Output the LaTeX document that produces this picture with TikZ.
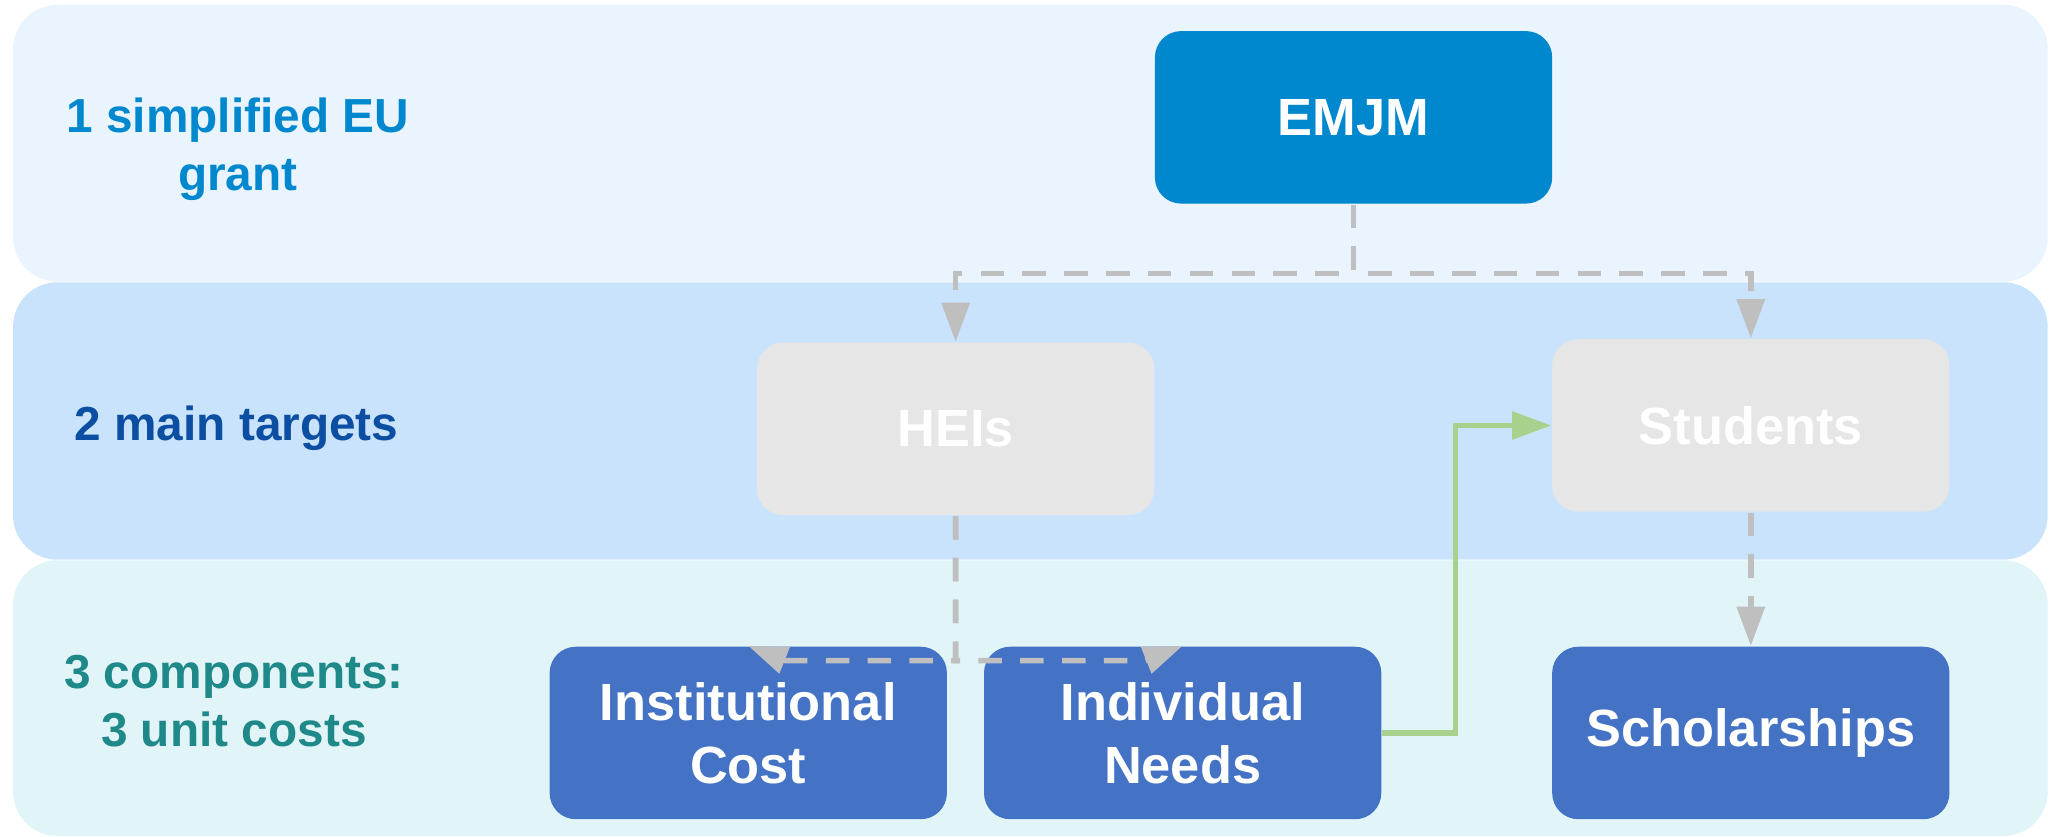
\documentclass[tikz,border=0pt]{standalone}
\usepackage{fontspec}
\setmainfont{Liberation Sans}
\usetikzlibrary{arrows.meta,positioning}
\definecolor{bandA}{HTML}{EAF4FE}
\definecolor{bandB}{HTML}{C9E3FC}
\definecolor{bandC}{HTML}{E1F5F9}
\definecolor{emjmblue}{HTML}{0088CF}
\definecolor{boxgray}{HTML}{E6E6E6}
\definecolor{costblue}{HTML}{4472C4}
\definecolor{linegray}{HTML}{BFBFBF}
\definecolor{linegreen}{HTML}{A9D18E}
\definecolor{targetblue}{HTML}{0B4EA2}
\definecolor{unitteal}{HTML}{1F8888}
\tikzset{
  band/.style={rounded corners=3.4mm},
  cbox/.style={rounded corners=2mm, minimum width=3.04cm, minimum height=1.32cm,
    inner sep=0pt, align=center, text=white, font=\fontsize{11.4}{13.7}\selectfont\bfseries},
  lbl/.style={align=center, inner sep=0pt, font=\fontsize{10.4}{12.6}\selectfont\bfseries},
  gline/.style={draw=linegray, line width=1.2pt, dash pattern=on 1.8mm off 1.4mm,
    -{Triangle[length=3mm,width=2.1mm]}},
  fline/.style={draw=linegreen, line width=1.1pt, -{Triangle[length=3mm,width=2.1mm]}}
}
\begin{document}
\begin{tikzpicture}
  \useasboundingbox (0,0) rectangle (15.68,-6.405);
  \fill[band,bandA] (0.10,-0.036) rectangle (15.67,-2.155);
  \fill[band,bandB] (0.10,-2.16) rectangle (15.67,-4.283);
  \fill[band,bandC] (0.10,-4.288) rectangle (15.67,-6.398);

  \node[lbl,text=emjmblue] (grantlbl) at (1.82,-1.145) {1 simplified EU\\grant};
  \node[lbl,text=targetblue] (targetlbl) at (1.81,-3.275) {2 main targets};
  \node[lbl,text=unitteal] (unitlbl) at (1.79,-5.368) {3 components:\\3 unit costs};

  \node[cbox,fill=emjmblue] (emjm) at (10.358,-0.898) {EMJM};
  \node[cbox,fill=boxgray] (heis) at (7.313,-3.282) {HEIs};
  \node[cbox,fill=boxgray] (students) at (13.398,-3.256) {Students};
  \node[cbox,fill=costblue] (inst) at (5.726,-5.609) {Institutional\\Cost};
  \node[cbox,fill=costblue] (indiv) at (9.05,-5.609) {Individual\\Needs};
  \node[cbox,fill=costblue] (schol) at (13.398,-5.609) {Scholarships};

  \coordinate (instbend) at (6.01,-5.055);
  \coordinate (indivbend) at (8.765,-5.055);
  \draw[gline] (emjm.south) -- ++(0,-0.526) -| (heis.north);
  \draw[gline] (emjm.south) -- ++(0,-0.526) -| (students.north);
  \draw[gline] (heis.south) |- (instbend) -- (inst.north);
  \draw[gline] (heis.south) |- (indivbend) -- (indiv.north);
  \draw[gline] (students.south) -- (schol.north);
  \draw[fline] (indiv.east) -- ++(0.564,0) |- (students.west);
\end{tikzpicture}
\end{document}
